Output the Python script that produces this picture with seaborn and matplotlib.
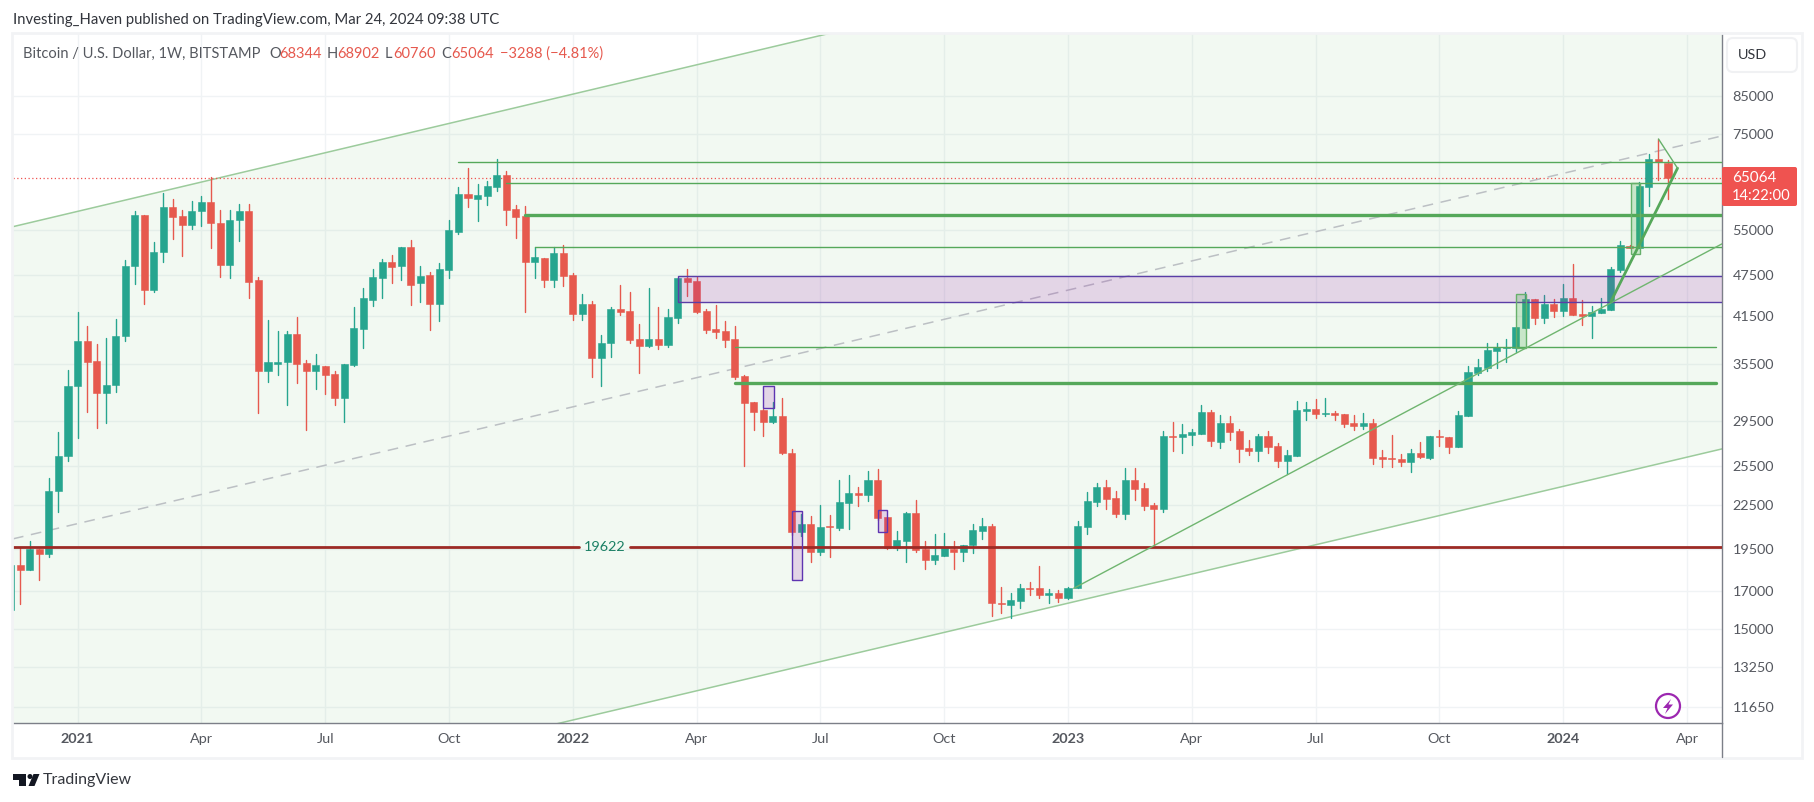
import numpy as np
import pandas as pd
import matplotlib
matplotlib.use("Agg")
import matplotlib.pyplot as plt
from matplotlib.patches import Circle, FancyBboxPatch, Polygon, Rectangle
import seaborn as sns

# Weekly BTC/USD candles, first one = week of 2020-11-16
opens = [15970,18500,18200,19480,19190,23530,26350,33130,38300,35900,32300,33200,38950,48900,57700,45250,51200,59250,57500,55900,
58400,60200,56300,49050,56700,58450,46700,34800,35600,35800,39200,35660,34800,35300,34400,31830,35450,39800,43760,47040,
49480,48900,52000,46200,47500,43200,48300,54660,61800,60800,61400,63250,65770,58870,57500,49500,50250,46700,51030,47490,
41850,43200,36300,38000,42500,42250,38560,37700,38560,37800,41300,47040,46500,42250,39800,39600,38560,34200,31400,30560,
29430,30000,26600,20590,21130,19300,20990,20830,22640,23380,23220,24380,21620,19540,20000,21910,19480,18820,19040,19480,
19300,19710,20670,21020,16350,16250,16460,17150,17150,16770,16870,16610,17150,20900,22690,23830,23000,21840,24380,23720,
22490,22200,28170,28000,28200,28280,30360,27580,29370,28570,27070,26800,28150,27250,25930,26320,30500,30700,30230,30300,
30200,29370,29070,29370,26250,26200,26130,25860,26640,26200,28150,28060,27160,30020,34560,35100,37090,37400,37400,39950,
43920,41290,43200,42240,44070,41800,41530,41950,42400,48300,52240,51850,63240,69250,68344]
highs = [19000,19550,20000,19480,24500,28500,34900,42100,40200,37900,38700,41150,49860,58500,57700,52850,61950,60800,58600,60400,
61400,65400,58600,58600,59800,59800,47100,41050,39600,39600,41400,36000,36700,35300,34800,35600,42800,45500,48400,50050,
50680,52000,53200,48900,48000,49350,56800,63200,67250,63850,64500,69250,66600,59600,59450,52060,50250,52060,52340,47800,
44600,43640,39070,42800,46000,44950,40520,45500,42800,42490,47040,48420,47200,42490,43080,40900,40230,34300,31400,30700,
31400,31830,26960,21850,21660,22460,21740,24380,24800,23830,25130,25290,21620,20670,21960,22830,20010,20440,20520,20010,
19710,21130,21550,21130,17220,16860,17400,17510,18440,17090,17060,17220,21350,23470,24120,24380,23550,25350,25350,24120,
22600,28580,29430,29260,28800,31130,30620,30130,29980,28770,27760,28320,28570,27500,26900,31510,31400,31700,31800,30490,
30200,30130,30300,29730,26900,28210,26500,26960,27590,28150,28680,28060,30490,35330,36140,38080,38080,38570,40110,44960,
43920,44470,43920,46120,49240,43760,42960,44070,48710,53040,52340,64290,70390,73900,68902]
lows = [15800,16280,18200,17600,18950,22000,25960,27950,30440,28900,29300,32500,38250,46100,43200,44950,49600,53400,50500,55200,
55700,51800,47200,47000,53100,44100,30280,33570,34300,31100,33400,28700,32800,32250,31100,29430,35300,37460,42970,44070,
46300,46700,43000,43500,39700,40900,47000,54250,59250,56600,59600,62460,55880,53560,42100,46950,45700,45700,45870,41050,
41050,34100,33130,36400,41700,38100,34500,37600,37370,37600,40680,44350,42000,39350,38690,37580,33870,25510,28680,28150,
29300,26500,20400,20300,18670,19100,19000,20700,20780,22430,22770,21400,19450,19400,18640,19300,18230,18520,19040,18230,
18730,19240,20130,15680,15800,15550,16090,16770,16620,16340,16370,16570,17150,20440,22400,22190,21620,21500,22830,22100,
19750,21960,26820,26650,27320,28280,27260,27070,27760,25870,26450,25930,26640,25430,24860,26320,29650,29830,30020,29650,
28960,28680,28770,25690,25430,25430,25500,25040,26200,26130,27250,26640,27160,30020,34300,34800,35100,35800,36930,39950,
40500,40610,41430,41530,41680,40340,38690,41950,42400,47970,51850,51850,59450,64680,60760]
closes = [18500,18200,19480,19190,23530,26350,33130,38300,35800,32300,33200,38950,48900,57700,45250,51200,59250,57400,55900,58450,
60200,56300,49050,56800,58450,46460,34800,35800,35800,39200,35600,34800,35450,34300,31830,35600,39950,44070,47190,49590,
48700,52000,46000,47340,43200,48400,54950,61800,61000,61580,63450,65770,58600,57350,49590,50340,46700,51030,47340,41850,
43200,36300,38060,42500,42100,38480,37700,38560,37800,41430,47040,46400,42070,39700,39400,38420,34080,31330,30360,29430,
30000,26600,20590,21130,19300,20930,20900,22690,23380,23250,24380,21550,19540,20060,21910,19410,18820,19090,19540,19300,
19710,20730,21020,16350,16280,16490,17150,17080,16770,16870,16610,17150,21020,22770,23830,22920,21840,24380,23640,22400,
22200,28150,28050,28280,28450,30360,27670,29370,28480,26960,26800,28150,27160,25930,26450,30620,30700,30230,30280,30130,
29260,29070,29370,26200,26110,26080,25860,26640,26250,28150,28060,27160,30130,34640,35230,37210,37570,37600,40110,43920,
41290,43200,42240,44070,41680,41530,42100,42520,48420,52340,51850,63440,69250,68600,65064]

first_week = pd.Timestamp("2020-11-16")
week = np.arange(len(opens))

x_labels = ["2021","Apr","Jul","Oct","2022","Apr","Jul","Oct","2023","Apr","Jul","Oct","2024","Apr"]
x_label_dates = ["2021-01-04","2021-04-05","2021-07-05","2021-10-04","2022-01-03","2022-04-04","2022-07-04",
                 "2022-10-03","2023-01-02","2023-04-03","2023-07-03","2023-10-02","2024-01-01","2024-04-01"]
y_ticks = [85000,75000,55000,47500,41500,35500,29500,25500,22500,19500,17000,15000,13250,11650]

# Drawn levels (price, first week)
thin_levels = [(68650,47),(63990,52),(52070,55),(37600,76)]
thick_levels = [(57660,54),(33390,76)]
level_end_short = 179.0
support = 19622
last_price = 65064
channel_upper = (55560,207100)
channel_lower = (7268,26970)
channel_mid = (20130,74630)
purple_zone = (43460,47290,70)
purple_boxes = [(79,80.08,30850,33060),(82.07,83.03,17630,22020),(91.08,92.04,20610,22090)]
green_boxes = [(158.03,159.1,37490,44600),(170.07,171.1,50850,63990)]
trend_thin = ([111.6,179.67],[17140,52540])
trend_thick = ([168,175],[43540,67190])
trend_tip = ([173,175],[73900,67190])

UP, DOWN = "#27a58f", "#e6594e"
GRID = "#f0f3f5"
LEVEL = "#55a85a"
FONT = "Lato"
INK = "#55585f"

sns.set_theme(style="white")
plt.rcParams["font.family"] = [FONT, "DejaVu Sans"]
W, H = 1815, 802
fig = plt.figure(figsize=(W/100, H/100), dpi=100, facecolor="white")
L, R, T, B = 13, 1722, 33, 723
ax = fig.add_axes([L/W, 1-B/H, (R-L)/W, (B-T)/H])
ax.set_yscale("log")
xmin, xmax = 0.227, 179.67
ymin, ymax = 11060, 104300

x_ticks = [(pd.Timestamp(d)-first_week).days/7 for d in x_label_dates]

# grid
for v in x_ticks:
    ax.axvline(v, color=GRID, lw=1, zorder=0.5)
for v in y_ticks:
    ax.axhline(v, color=GRID, lw=1, zorder=0.5)

# channel
ends = [xmin, xmax]
ax.fill_between(ends, channel_lower, channel_upper, color="#4caf50", alpha=0.07, lw=0, zorder=1)

def seg(xs, ys, color, lw, z=3, **kw):
    sns.lineplot(x=list(xs), y=list(ys), color=color, linewidth=lw, estimator=None, sort=False,
                 ax=ax, legend=False, zorder=z, **kw)

seg(ends, channel_upper, "#9ccb9c", 1.1, 2)
seg(ends, channel_lower, "#9ccb9c", 1.1, 2)
seg(ends, channel_mid, "#bcc0c4", 1.1, 2, linestyle=(0, (7, 5)))

# candles
closes_a, opens_a = np.array(closes, float), np.array(opens, float)
up = closes_a >= opens_a
wicks = pd.DataFrame({
    "candle": np.repeat(week, 2),
    "week": np.repeat(week, 2),
    "price": np.column_stack([lows, highs]).ravel(),
    "dir": np.repeat(np.where(up, "up", "down"), 2),
})
sns.lineplot(data=wicks, x="week", y="price", units="candle", hue="dir", estimator=None, sort=False,
             palette={"up": UP, "down": DOWN}, linewidth=1.0, legend=False, ax=ax, zorder=2.2)
ax.bar(week, np.abs(closes_a-opens_a), bottom=np.minimum(opens_a, closes_a), width=0.74,
       color=np.where(up, UP, DOWN), edgecolor=np.where(up, UP, DOWN), linewidth=0.4, zorder=2.4)

# levels
for price, start in thin_levels:
    end = xmax if price > 40000 else level_end_short
    seg([start, end], [price, price], LEVEL, 1.0)
for price, start in thick_levels:
    end = xmax if price > 40000 else level_end_short
    seg([start, end], [price, price], LEVEL, 2.4)

# support line with label gap
support_gap = (59.7, 65.0)
seg([xmin, support_gap[0]], [support, support], "#9c2a25", 2.0)
seg([support_gap[1], xmax], [support, support], "#9c2a25", 2.0)
ax.text(sum(support_gap)/2, support, str(support), color="#1a7f64", ha="center", va="center",
        fontsize=10.4, zorder=4)

# last price
seg([xmin, xmax], [last_price, last_price], "#ef5350", 0.9, 2, linestyle=(0, (1, 2)))

# zones
lo, hi, start = purple_zone
ax.add_patch(Rectangle((start, lo), xmax-start+2, hi-lo, fc=(0.61, 0.15, 0.69, 0.17), ec="#5a3ea6", lw=1.0, zorder=3))
for x0, x1, lo, hi in purple_boxes:
    ax.add_patch(Rectangle((x0, lo), x1-x0, hi-lo, fc=(0.61, 0.15, 0.69, 0.17), ec="#5e35b1", lw=1.0, zorder=3))
for x0, x1, lo, hi in green_boxes:
    ax.add_patch(Rectangle((x0, lo), x1-x0, hi-lo, fc=(0.30, 0.69, 0.31, 0.25), ec="#66b06a", lw=1.0, zorder=3))

# trend lines
seg(*trend_thin, "#6fb56f", 1.0)
seg(*trend_thick, "#55a85a", 2.0)
seg(*trend_tip, "#66b06a", 1.0)

ax.set_xlim(xmin, xmax)
ax.set_ylim(ymin, ymax)
ax.set_xlabel("")
ax.set_ylabel("")
ax.set_xticks(x_ticks)
ax.set_xticklabels(x_labels, fontsize=10.4, color=INK)
for lab, txt in zip(ax.get_xticklabels(), x_labels):
    if txt.isdigit():
        lab.set_fontweight("bold")
ax.yaxis.tick_right()
ax.set_yticks(y_ticks)
ax.set_yticklabels([str(v) for v in y_ticks], fontsize=10.4, color=INK)
ax.minorticks_off()
ax.tick_params(axis="both", length=0)
ax.tick_params(axis="y", pad=7.5)
ax.tick_params(axis="x", pad=7.5)
for s in ["top", "left"]:
    ax.spines[s].set_visible(False)
for s in ["bottom", "right"]:
    ax.spines[s].set_color("#7c7f88")
    ax.spines[s].set_linewidth(1)

# page furniture in pixel coordinates
ov = fig.add_axes([0, 0, 1, 1], facecolor="none")
ov.set_xlim(0, W)
ov.set_ylim(H, 0)
ov.axis("off")
FR = "#f2f3f5"
ov.add_patch(Rectangle((12, 33), 1790, 724.5, fc="none", ec=FR, lw=2))
ov.plot([R, R], [723, 757], color="#7c7f88", lw=1)
ov.add_patch(FancyBboxPatch((1730, 41), 64, 28, boxstyle="round,pad=3,rounding_size=6", fc="white", ec="#f0f1f3", lw=1.5))
ov.text(1738, 55, "USD", fontsize=10.4, color="#33363d", va="center")
ov.add_patch(FancyBboxPatch((1722, 167), 75, 39, boxstyle="round,pad=0,rounding_size=2", fc="#ef5350", ec="none"))
ov.text(1732, 178, str(last_price), fontsize=11, color="white", va="center")
ov.text(1732, 196, "14:22:00", fontsize=10.6, color="white", va="center")

ov.text(13, 20, "Investing_Haven published on TradingView.com, Mar 24, 2024 09:38 UTC", fontsize=10.7, color="#33363d", va="center")
legend_bits = [(23, "Bitcoin / U.S. Dollar, 1W, BITSTAMP", INK), (269, "O", INK), (279, "68344", DOWN), (327, "H", INK),
               (337, "68902", DOWN), (385, "L", INK), (393, "60760", DOWN), (441.5, "C", INK), (451, "65064", DOWN),
               (500, "\u22123288 (\u22124.81%)", DOWN)]
for x, s, c in legend_bits:
    ov.text(x, 54, s, fontsize=10.5, color=c, va="center")

# logo
ov.add_patch(Polygon([(13.3, 774), (26, 774), (26, 786), (19.5, 786), (19.5, 779.7), (13.3, 779.7)], fc="#131722", ec="none"))
ov.add_patch(Circle((30, 776.5), 2.5, fc="#131722", ec="none"))
ov.add_patch(Polygon([(33.5, 774), (39.5, 774), (34.5, 786), (28.5, 786)], fc="#131722", ec="none"))
ov.text(43, 780, "TradingView", fontsize=11.5, color="#33363d", va="center")

# bolt badge
ov.add_patch(Circle((1668, 706), 12, fc="white", ec="#9c27b0", lw=1.6))
ov.add_patch(Polygon([(1671, 699), (1663, 708), (1667.5, 708), (1665, 714), (1673, 704.5), (1668.5, 704.5)], fc="#9c27b0", ec="none"))

fig.savefig("out.png", dpi=100, facecolor="white")
